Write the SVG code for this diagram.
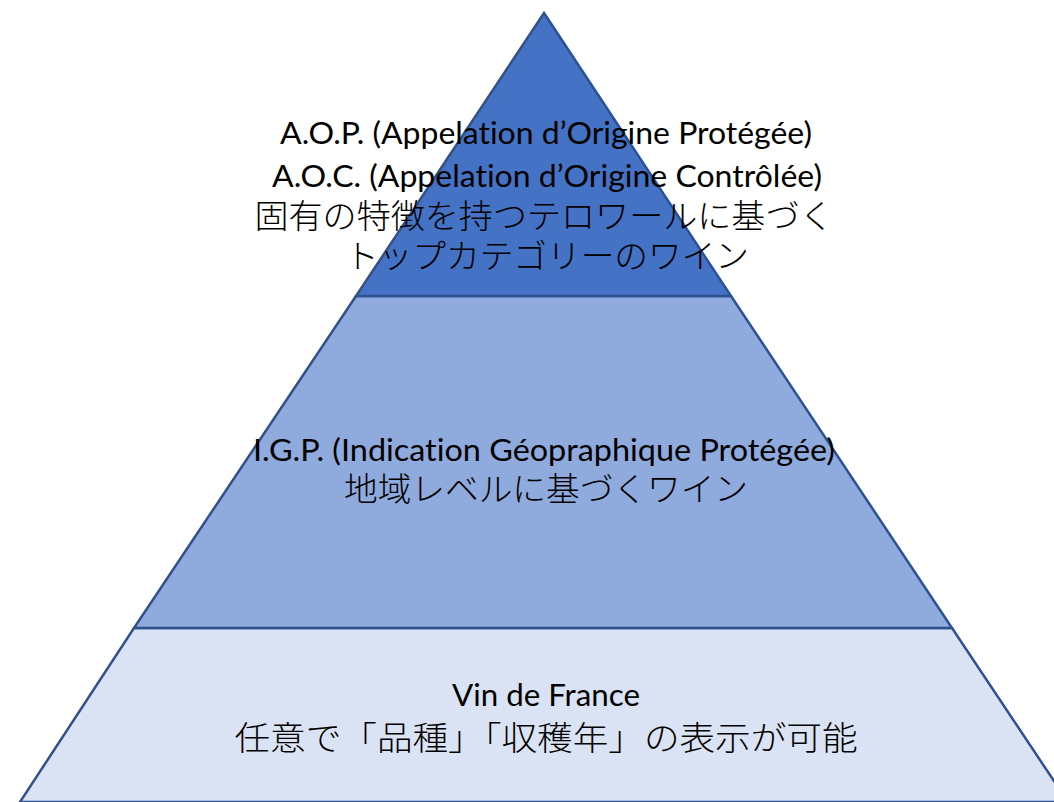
<svg xmlns="http://www.w3.org/2000/svg" width="1054" height="802" viewBox="0 0 1054 802">
<style>
.tier{stroke:#2F528F;stroke-width:2.5;stroke-linejoin:miter}
.lat{font-family:Lato,"Open Sans","Liberation Sans",sans-serif;font-size:30px;fill:#000;text-anchor:middle;font-variant-ligatures:none}
.jp{font-family:"Noto Sans CJK JP","Noto Sans",sans-serif;font-size:33px;font-weight:300;fill:#000;text-anchor:middle}
</style>
<rect width="1054" height="802" fill="#FFFFFF"/>
<g id="tier-vdf">
<polygon class="tier" fill="#DAE3F3" points="134,628 952,628 1068,802 20,802"/>
</g>
<g id="tier-igp">
<polygon class="tier" fill="#8FAADC" points="356,296 731,296 952,628 134,628"/>
</g>
<g id="tier-aop">
<polygon class="tier" fill="#4472C4" points="544,13 731,296 356,296"/>
</g>
<g id="connectors"></g>
<g id="label-aop">
<text class="lat" x="546" y="144" textLength="532" lengthAdjust="spacingAndGlyphs">A.O.P. (Appelation d’Origine Protégée)</text>
<text class="lat" x="547" y="187" textLength="550" lengthAdjust="spacingAndGlyphs">A.O.C. (Appelation d’Origine Contrôlée)</text>
<text class="jp" x="544" y="228" textLength="579" lengthAdjust="spacingAndGlyphs">固有の特徴を持つテロワールに基づく</text>
<text class="jp" x="547" y="268" textLength="404" lengthAdjust="spacingAndGlyphs">トップカテゴリーのワイン</text>
</g>
<g id="label-igp">
<text class="lat" x="544" y="461" textLength="582" lengthAdjust="spacingAndGlyphs">I.G.P. (Indication Géopraphique Protégée)</text>
<text class="jp" x="546" y="501" textLength="404" lengthAdjust="spacingAndGlyphs">地域レベルに基づくワイン</text>
</g>
<g id="label-vdf">
<text class="lat" x="546" y="706" textLength="188" lengthAdjust="spacingAndGlyphs">Vin de France</text>
<text class="jp" x="546" y="750" textLength="623" lengthAdjust="spacingAndGlyphs">任意で「品種」「収穫年」の表示が可能</text>
</g>
</svg>
